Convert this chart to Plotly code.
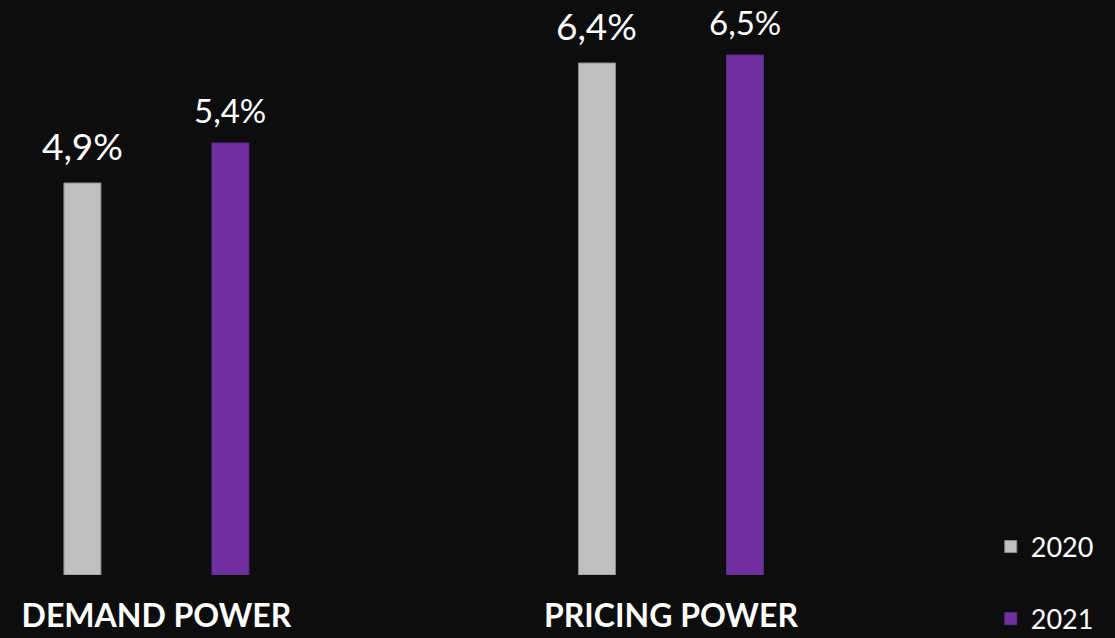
import plotly.graph_objects as go

categories = ["DEMAND POWER", "PRICING POWER"]
series_names = ["2020", "2021"]
values_2020 = [4.9, 6.4]
values_2021 = [5.4, 6.5]
labels_2020 = ["4,9%", "6,4%"]
labels_2021 = ["5,4%", "6,5%"]

BG = "#0d0d0d"
GRAY = "#bfbfbf"
PURPLE = "#7030a0"
FONT = "Lato"

fig = go.Figure()
fig.add_trace(go.Bar(x=categories, y=values_2020, name=series_names[0],
                     marker=dict(color=GRAY, line=dict(color="#8a8a8a", width=1)),
                     legendgroup="a"))
fig.add_trace(go.Bar(x=categories, y=values_2021, name=series_names[1],
                     marker=dict(color=PURPLE, line=dict(color="#5e2888", width=1)),
                     legendgroup="b"))

annotations = []
for i, cat in enumerate(categories):
    annotations.append(dict(x=cat, y=values_2020[i], text=labels_2020[i], xshift=-74,
                            yshift=13, showarrow=False, yanchor="bottom",
                            font=dict(family=FONT, size=37, color="white")))
    annotations.append(dict(x=cat, y=values_2021[i], text=labels_2021[i], xshift=74,
                            yshift=11, showarrow=False, yanchor="bottom",
                            font=dict(family=FONT, size=33, color="white")))

fig.update_layout(
    width=1115, height=638,
    paper_bgcolor=BG, plot_bgcolor=BG,
    margin=dict(l=0, r=135, t=0, b=63, autoexpand=False),
    barmode="group", bargap=0.4248, bargroupgap=0.75,
    annotations=annotations,
    font=dict(family=FONT, color="white"),
    showlegend=True,
    legend=dict(x=1.011, y=0.0913, xanchor="left", yanchor="top",
                traceorder="grouped", tracegroupgap=34,
                font=dict(family=FONT, size=27, color="white"),
                bgcolor="rgba(0,0,0,0)"),
)
fig.update_xaxes(range=[-0.304, 1.6006], showgrid=False, zeroline=False,
                 showline=False, ticks="", automargin=False,
                 tickfont=dict(family=FONT, size=32, color="white", weight="bold"),
                 ticklabelstandoff=19)
fig.update_yaxes(range=[0, 7.1875], showgrid=False, zeroline=False,
                 showline=False, showticklabels=False, ticks="", automargin=False)

fig.write_html("out.html", config={"displayModeBar": False},
               post_script="document.body.style.margin='0';document.body.style.background='#0d0d0d';")
